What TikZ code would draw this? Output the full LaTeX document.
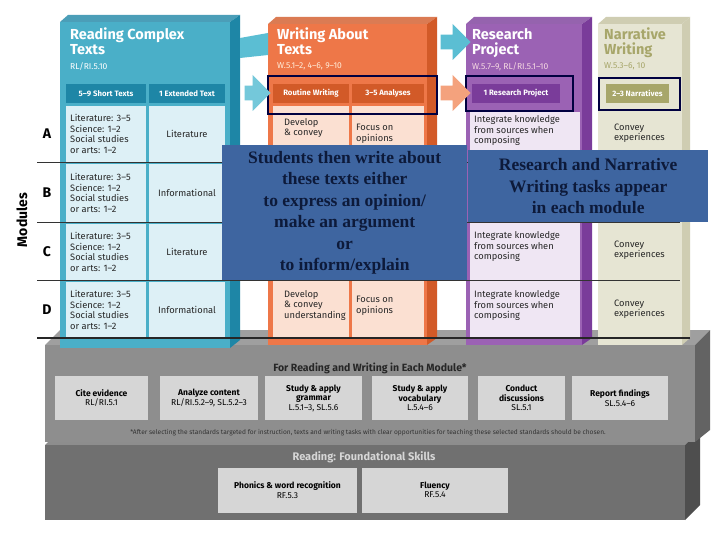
\documentclass[tikz,border=0pt]{standalone}
\usepackage{fontspec}
\setmainfont{Fira Sans}
\newfontfamily\ovl{Liberation Serif}
\usetikzlibrary{shapes.arrows}
\definecolor{bfront}{HTML}{4AAFC8}\definecolor{bside}{HTML}{1E86A6}\definecolor{bcell}{HTML}{DDF0F6}
\definecolor{ofront}{HTML}{EE7748}\definecolor{oside}{HTML}{D25A28}\definecolor{ocell}{HTML}{FBE0D2}
\definecolor{pfront}{HTML}{9B62B4}\definecolor{pside}{HTML}{7A3C9A}\definecolor{pcell}{HTML}{EFE6F3}
\definecolor{nfront}{HTML}{E6E5D3}\definecolor{nside}{HTML}{CFCDB2}\definecolor{nbar}{HTML}{A7A66A}
\definecolor{ovbox}{HTML}{3E65A0}\definecolor{ovtext}{HTML}{0D1A3A}
\definecolor{gplat}{HTML}{8E8E8E}\definecolor{gbox}{HTML}{D6D6D6}\definecolor{gplat2}{HTML}{707070}
\definecolor{arrc}{HTML}{5BBED3}\definecolor{arro}{HTML}{F4A27D}
\tikzset{
 hd/.style={anchor=north west,align=left,font=\bfseries\fontsize{14.5}{15}\selectfont,inner sep=0},
 sub/.style={anchor=north west,font=\fontsize{8.5}{8.5}\selectfont,inner sep=0},
 cell/.style={align=left,font=\fontsize{9.3}{10.5}\selectfont,inner sep=0,text=black!85},
 bar/.style={text=white,font=\bfseries\fontsize{7.8}{8}\selectfont,inner sep=0},
 outl/.style={draw=black!75!blue,line width=2.2pt},
 row/.style={font=\bfseries\fontsize{14}{14}\selectfont},
 gb/.style={fill=gbox,align=center,font=\fontsize{8.5}{9.5}\selectfont,inner sep=1pt},
 ov/.style={fill=ovbox,text=ovtext,align=center,font=\ovl\bfseries\fontsize{17.5}{21.5}\selectfont},
}
\begin{document}
\begin{tikzpicture}[x=1pt,y=-1pt]
\useasboundingbox[fill=white] (0,0) rectangle (720,540);
% platforms
\fill[gplat2!80] (45,445) -- (60,430) -- (700,430) -- (685,445) -- cycle;
\fill[gplat2] (45,445) rectangle (685,520);
\fill[gplat2!70!black] (685,445) -- (700,430) -- (700,505) -- (685,520) -- cycle;
\fill[gplat!85] (45,345) -- (60,330) -- (710,330) -- (695,345) -- cycle;
\fill[gplat] (45,345) rectangle (695,442);
\fill[gplat!70!black] (695,345) -- (710,330) -- (710,430) -- (695,442) -- cycle;
% blue column
\fill[bside!80] (60,22) -- (68,15) -- (240,15) -- (230,22) -- cycle;
\fill[bfront] (60,22) rectangle (230,348);
\fill[bside] (230,22) -- (240,15) -- (240,340) -- (230,348) -- cycle;
\node[hd,text=white] (bh) at (70,28) {Reading Complex\\Texts};
\node[sub,text=white] (bs) at (70,62) {RL/RI.5.10};
\fill[bside] (66,84) rectangle (146,103);\fill[bside] (149,84) rectangle (225,103);
\node[bar] (b1) at (106,93.5) {5--9 Short Texts};\node[bar] (b2) at (187,93.5) {1 Extended Text};
\foreach \ya/\yb/\nm/\t in {106/162/A/Literature,164/222/B/Informational,224/280/C/Literature,282/338/D/Informational}{
 \fill[bcell] (66,\ya) rectangle (146,\yb);\fill[bcell] (149,\ya) rectangle (225,\yb);
 \node[cell,anchor=west] (s\nm) at (70,{(\ya+\yb)/2}) {Literature: 3--5\\Science: 1--2\\Social studies\\or arts: 1--2};
 \node[cell] (e\nm) at (187,{(\ya+\yb)/2}) {\t};
 \node[row] (r\nm) at (47,{(\ya+\yb)/2}) {\nm};
}
\node[rotate=90,font=\bfseries\fontsize{14}{14}\selectfont] (mod) at (22,220) {Modules};
% orange column
\fill[oside!80] (268,24) -- (276,17) -- (437,17) -- (427,24) -- cycle;
\fill[ofront] (268,24) rectangle (427,345);
\fill[oside] (427,24) -- (437,17) -- (437,338) -- (427,345) -- cycle;
\node[hd,text=white] (oh) at (277,28) {Writing About\\Texts};
\node[sub,text=white!85!orange] (os) at (277,62) {W.5.1--2, 4--6, 9--10};
\fill[oside] (273,84) rectangle (349,103);\fill[oside] (352,84) rectangle (424,103);
\node[bar] (o1) at (311,93.5) {Routine Writing};\node[bar] (o2) at (388,93.5) {3--5 Analyses};
\fill[ocell] (273,106) rectangle (349,338);\fill[ocell] (352,106) rectangle (424,338);
\node[cell,anchor=north west] (oa) at (284,118) {Develop\\\& convey};
\node[cell,anchor=north west] (ob) at (356,124) {Focus on\\opinions};
\node[cell,anchor=north west] (od) at (284,290) {Develop\\\& convey\\understanding};
\node[cell,anchor=north west] (oe) at (356,296) {Focus on\\opinions};
\draw[outl] (268,76) rectangle (437,114);
% purple
\fill[pside!80] (466,24) -- (474,17) -- (592,17) -- (582,24) -- cycle;
\fill[pfront] (466,24) rectangle (582,345);
\fill[pside] (582,24) -- (592,17) -- (592,338) -- (582,345) -- cycle;
\node[hd,text=white] (ph) at (472,28) {Research\\Project};
\node[sub,text=white!85!purple] (ps) at (472,62) {W.5.7--9, RL/RI.5.1--10};
\fill[pside] (472,84) rectangle (560,103);
\node[bar] (p1) at (516,93.5) {1 Research Project};
\fill[pcell] (470,112) rectangle (580,338);
\foreach \yy/\nm in {131/a,247/c,306/d}
 \node[cell,anchor=west] (p\nm) at (474,\yy) {Integrate knowledge\\from sources when\\composing};
\draw[outl] (466,76) rectangle (573,111);
% narrative
\fill[nside] (598,24) -- (606,17) -- (690,17) -- (682,24) -- cycle;
\fill[nfront] (598,24) rectangle (682,345);
\fill[nside] (682,24) -- (690,17) -- (690,338) -- (682,345) -- cycle;
\node[hd,text=nbar] (nh) at (604,28) {Narrative\\Writing};
\node[sub,text=nbar] (ns) at (604,62) {W.5.3--6, 10};
\fill[nbar] (606,84) rectangle (669,103);
\node[bar] (n1) at (637.5,93.5) {2--3 Narratives};
\foreach \yy/\nm in {133/a,250/c,309/d}
 \node[cell,anchor=west] (n\nm) at (614,\yy) {Convey\\experiences};
\draw[outl] (599,78) rectangle (680,110);
% arrows
\fill[arrc] (240,38) -- (268,33) -- (268,55) -- (240,58) -- cycle;
\node[single arrow,fill=arrc!85!white,minimum height=26pt,minimum width=36pt,single arrow head extend=6pt,inner sep=4pt] (ar1) at (254,93) {};
\node[single arrow,fill=arrc,minimum height=30pt,minimum width=36pt,single arrow head extend=6pt,inner sep=4pt] (ar2) at (452,42) {};
\node[single arrow,fill=arro,minimum height=30pt,minimum width=36pt,single arrow head extend=6pt,inner sep=4pt] (ar3) at (452,93) {};
% row lines
\foreach \yy in {162,222,280} \draw[black!80,line width=0.8pt] (37,\yy) -- (680,\yy);
\draw[black!85,line width=1.3pt] (37,338) -- (690,338);
% overlay boxes
\node[ov,minimum width=245pt,minimum height=135pt,anchor=north west,inner sep=1pt] (ov1) at (222,145) {Students then write about\\these texts either\\to express an opinion/\\make an argument\\or\\to inform/explain};
\node[ov,minimum width=240pt,minimum height=72pt,anchor=north west,inner sep=1pt] (ov2) at (468,150) {Research and Narrative\\Writing tasks appear\\in each module};
% middle platform content
\node[font=\bfseries\fontsize{10.5}{11}\selectfont,text=black!85] (ph1) at (370,368) {For Reading and Writing in Each Module*};
\foreach \xa/\xb/\nm/\t in {55/148/g1/{\textbf{Cite evidence}\\RL/RI.5.1},160/258/g2/{\textbf{Analyze content}\\RL/RI.5.2--9, SL.5.2--3},265/362/g3/{\textbf{Study \& apply}\\\textbf{grammar}\\L.5.1--3, SL.5.6},372/468/g4/{\textbf{Study \& apply}\\\textbf{vocabulary}\\L.5.4--6},478/565/g5/{\textbf{Conduct}\\\textbf{discussions}\\SL.5.1},572/668/g6/{\textbf{Report findings}\\SL.5.4--6}}
 \node[gb,minimum width={\xb-\xa},minimum height=44pt] (\nm) at ({(\xa+\xb)/2},398) {\t};
\node[font=\fontsize{6.6}{7}\selectfont,text=black!80] (fn) at (368,433) {*After selecting the standards targeted for instruction, texts and writing tasks with clear opportunities for teaching these selected standards should be chosen.};
% lower platform
\node[font=\bfseries\fontsize{11}{11}\selectfont,text=gbox] (fs) at (364,457) {Reading: Foundational Skills};
\node[gb,minimum width=139pt,minimum height=45pt] (f1) at (287.5,490) {\textbf{Phonics \& word recognition}\\RF.5.3};
\node[gb,minimum width=146pt,minimum height=45pt] (f2) at (435,490) {\textbf{Fluency}\\RF.5.4};
\end{tikzpicture}
\end{document}
